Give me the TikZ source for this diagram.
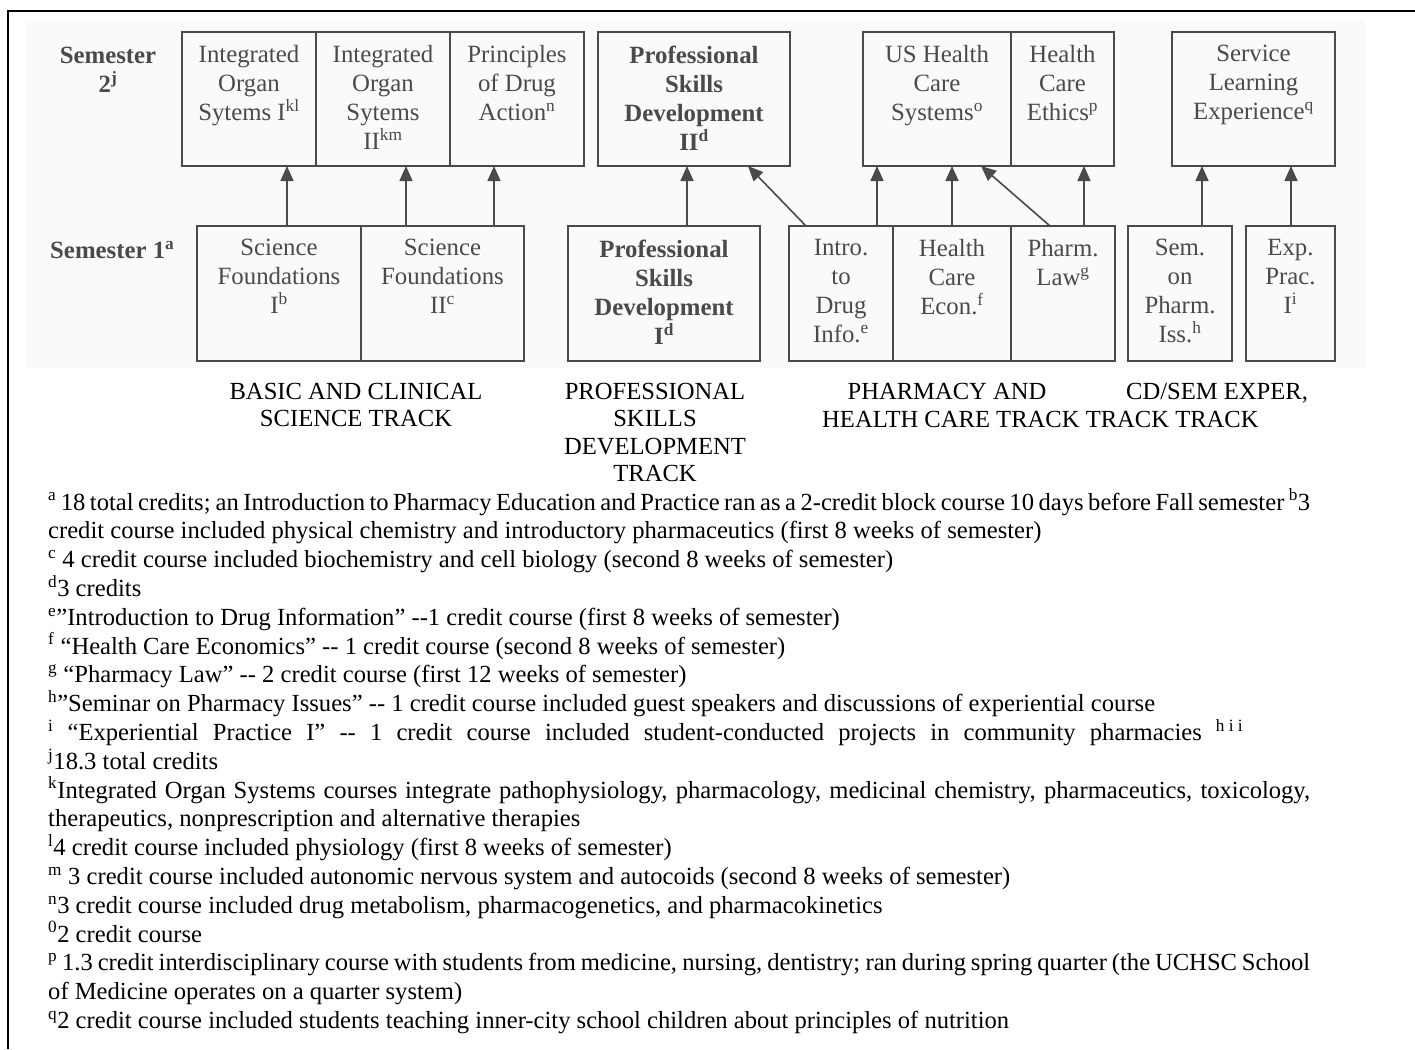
\documentclass[tikz,border=0pt]{standalone}
\usepackage{fontspec}
\setmainfont{Liberation Serif}[Ligatures=TeXOff]
\usetikzlibrary{arrows.meta,calc}
\definecolor{ink}{HTML}{4A4A4A}
\definecolor{scan}{HTML}{FAFAFC}
\tikzset{
  box/.style={draw=ink, line width=1.6pt, anchor=north west, inner sep=0pt, outer sep=0pt},
  txt/.style={text=ink, align=center, anchor=north, inner sep=0pt, font=\fontsize{24.8}{29}\selectfont},
  btxt/.style={txt, font=\fontsize{24.8}{29}\selectfont\bfseries},
  arr/.style={draw=ink, line width=1.6pt, -{Triangle[width=13pt,length=15pt]}},
  track/.style={align=center, anchor=north, inner sep=0pt, font=\fontsize{24.6}{27.5}\selectfont},
  note/.style={anchor=base west, inner sep=0pt, font=\fontsize{24.6}{28.8}\selectfont},
}
\begin{document}
\begin{tikzpicture}[x=1pt,y=-1pt]
\useasboundingbox (0,0) rectangle (1415,1049);
\fill[scan] (25,20) rectangle (1365,368);
\draw[line width=2.5pt] (8,1049) -- (8,11) -- (1415,11);

% semester labels
\node[btxt] (sem2) at (108,47) {Semester\\2\textsuperscript{j}};
\node[btxt, anchor=north west] (sem1) at (50,241) {Semester 1\textsuperscript{a}};

% top row boxes
\node[box, minimum width=134, minimum height=134] (ios1) at (182,32) {};
\node[box, minimum width=134, minimum height=134] (ios2) at (316,32) {};
\node[box, minimum width=134, minimum height=134] (pda) at (450,32) {};
\node[box, minimum width=192, minimum height=134] (psd2) at (598,32) {};
\node[box, minimum width=148, minimum height=134] (ushcs) at (863,32) {};
\node[box, minimum width=103, minimum height=134] (hce) at (1011,32) {};
\node[box, minimum width=163, minimum height=134] (slx) at (1172,32) {};

\node[txt] (t-ios1) at ($(ios1.north)+(0,13)$) {Integrated\\Organ\\Sytems I\textsuperscript{kl}};
\node[txt] (t-ios2) at ($(ios2.north)+(0,13)$) {Integrated\\Organ\\Sytems\\II\textsuperscript{km}};
\node[txt] (t-pda) at ($(pda.north)+(0,13)$) {Principles\\of Drug\\Action\textsuperscript{n}};
\node[btxt] (t-psd2) at ($(psd2.north)+(0,14)$) {Professional\\Skills\\Development\\II\textsuperscript{d}};
\node[txt] (t-ushcs) at ($(ushcs.north)+(0,13)$) {US Health\\Care\\Systems\textsuperscript{o}};
\node[txt] (t-hce) at ($(hce.north)+(0,13)$) {Health\\Care\\Ethics\textsuperscript{p}};
\node[txt] (t-slx) at ($(slx.north)+(0,13)$) {Service\\Learning\\Experience\textsuperscript{q}};

% bottom row boxes
\node[box, minimum width=164, minimum height=135] (sf1) at (197,226) {};
\node[box, minimum width=163, minimum height=135] (sf2) at (361,226) {};
\node[box, minimum width=192, minimum height=135] (psd1) at (568,226) {};
\node[box, minimum width=104, minimum height=135] (idi) at (789,226) {};
\node[box, minimum width=118, minimum height=135] (hcecon) at (893,226) {};
\node[box, minimum width=104, minimum height=135] (law) at (1011,226) {};
\node[box, minimum width=104, minimum height=135] (spi) at (1128,226) {};
\node[box, minimum width=89, minimum height=135] (ep) at (1246,226) {};

\node[txt] (t-sf1) at ($(sf1.north)+(0,13)$) {Science\\Foundations\\I\textsuperscript{b}};
\node[txt] (t-sf2) at ($(sf2.north)+(0,13)$) {Science\\Foundations\\II\textsuperscript{c}};
\node[btxt] (t-psd1) at ($(psd1.north)+(0,14)$) {Professional\\Skills\\Development\\I\textsuperscript{d}};
\node[txt] (t-idi) at ($(idi.north)+(0,13)$) {Intro.\\to\\Drug\\Info.\textsuperscript{e}};
\node[txt] (t-hcecon) at ($(hcecon.north)+(0,13)$) {Health\\Care\\Econ.\textsuperscript{f}};
\node[txt] (t-law) at ($(law.north)+(0,13)$) {Pharm.\\Law\textsuperscript{g}};
\node[txt] (t-spi) at ($(spi.north)+(0,13)$) {Sem.\\on\\Pharm.\\Iss.\textsuperscript{h}};
\node[txt] (t-ep) at ($(ep.north)+(0,13)$) {Exp.\\Prac.\\I\textsuperscript{i}};

% connectors
\draw[arr] (sf1.north -| 287,0) -- (ios1.south -| 287,0);
\draw[arr] (sf2.north -| 406,0) -- (ios2.south -| 406,0);
\draw[arr] (sf2.north -| 494,0) -- (pda.south -| 494,0);
\draw[arr] (psd1.north -| 687,0) -- (psd2.south -| 687,0);
\draw[arr] (idi.north -| 806,0) -- (psd2.south -| 748,0);
\draw[arr] (idi.north -| 877,0) -- (ushcs.south -| 877,0);
\draw[arr] (hcecon.north -| 952,0) -- (ushcs.south -| 952,0);
\draw[arr] (law.north -| 1050,0) -- (ushcs.south -| 981,0);
\draw[arr] (law.north -| 1084,0) -- (hce.south -| 1084,0);
\draw[arr] (spi.north -| 1202,0) -- (slx.south -| 1202,0);
\draw[arr] (ep.north -| 1291,0) -- (slx.south -| 1291,0);

% track labels
\node[track] (tr1) at (356,383) {BASIC AND CLINICAL\\SCIENCE TRACK};
\node[track] (tr2) at (655,383) {PROFESSIONAL\\SKILLS\\DEVELOPMENT\\TRACK};
\node[track] (tr3) at (947,383) {PHARMACY AND};
\node[track] (tr4) at (1217,383) {CD/SEM EXPER,};
\node[track, anchor=north west] (tr5) at (822,411) {HEALTH CARE TRACK TRACK TRACK};

% footnotes
\node[note] (f1) at (48,510) {\makebox[1262pt][s]{\textsuperscript{a} 18 total credits; an Introduction to Pharmacy Education and Practice ran as a 2-credit block course 10 days before Fall semester \textsuperscript{b}3}};
\node[note] (f2) at (48,538.8) {credit course included physical chemistry and introductory pharmaceutics (first 8 weeks of semester)};
\node[note] (f3) at (48,567.6) {\textsuperscript{c} 4 credit course included biochemistry and cell biology (second 8 weeks of semester)};
\node[note] (f4) at (48,596.4) {\textsuperscript{d}3 credits};
\node[note] (f5) at (48,625.2) {\textsuperscript{e}”Introduction to Drug Information” --1 credit course (first 8 weeks of semester)};
\node[note] (f6) at (48,654.0) {\textsuperscript{f} “Health Care Economics” -- 1 credit course (second 8 weeks of semester)};
\node[note] (f7) at (48,682.8) {\textsuperscript{g} “Pharmacy Law” -- 2 credit course (first 12 weeks of semester)};
\node[note] (f8) at (48,711.6) {\textsuperscript{h}”Seminar on Pharmacy Issues” -- 1 credit course included guest speakers and discussions of experiential course};
\node[note] (f9) at (48,740.4) {\makebox[1195pt][s]{\textsuperscript{i} “Experiential Practice I” -- 1 credit course included student-conducted projects in community pharmacies \textsuperscript{h i i}}};
\node[note] (f10) at (48,769.2) {\textsuperscript{j}18.3 total credits};
\node[note] (f11) at (48,798.0) {\makebox[1262pt][s]{\textsuperscript{k}Integrated Organ Systems courses integrate pathophysiology, pharmacology, medicinal chemistry, pharmaceutics, toxicology,}};
\node[note] (f12) at (48,826.8) {therapeutics, nonprescription and alternative therapies};
\node[note] (f13) at (48,855.6) {\textsuperscript{l}4 credit course included physiology (first 8 weeks of semester)};
\node[note] (f14) at (48,884.4) {\textsuperscript{m} 3 credit course included autonomic nervous system and autocoids (second 8 weeks of semester)};
\node[note] (f15) at (48,913.2) {\textsuperscript{n}3 credit course included drug metabolism, pharmacogenetics, and pharmacokinetics};
\node[note] (f16) at (48,942.0) {\textsuperscript{0}2 credit course};
\node[note] (f17) at (48,970.8) {\makebox[1262pt][s]{\textsuperscript{p} 1.3 credit interdisciplinary course with students from medicine, nursing, dentistry; ran during spring quarter (the UCHSC School}};
\node[note] (f18) at (48,999.6) {of Medicine operates on a quarter system)};
\node[note] (f19) at (48,1028.4) {\textsuperscript{q}2 credit course included students teaching inner-city school children about principles of nutrition};
\end{tikzpicture}
\end{document}
